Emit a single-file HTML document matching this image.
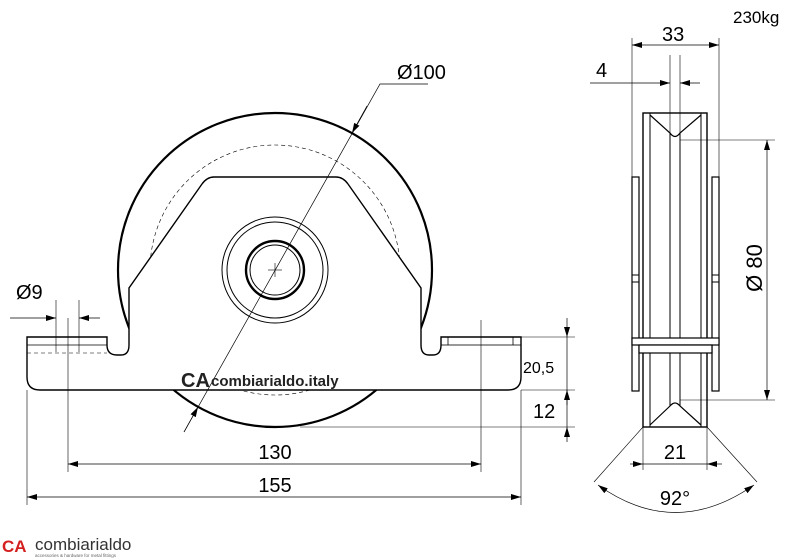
<!DOCTYPE html>
<html><head><meta charset="utf-8"><style>
html,body{margin:0;padding:0;background:#fff;}
svg{display:block;font-family:"Liberation Sans",sans-serif;}
</style></head><body>
<svg width="800" height="560" viewBox="0 0 800 560" xmlns="http://www.w3.org/2000/svg">
<defs>
<marker id="a" viewBox="0 0 10 6" refX="10" refY="3" markerWidth="10" markerHeight="6" orient="auto-start-reverse" markerUnits="userSpaceOnUse"><path d="M0,0L10,3L0,6Z" fill="#000"/></marker>
</defs>
<g fill="none" stroke="#000">
<circle cx="275" cy="270" r="157" stroke-width="2.2"/>
<circle cx="275" cy="270" r="125" stroke-width="0.6" stroke-dasharray="4,3"/>
<path d="M27,337 H107 V345 Q107,355 117,355 H121 Q129,355 129,345 V288 L202,184 Q207,177 214,177 H336 Q343,177 348,184 L421,288 V345 Q421,355 429,355 H433 Q441,355 441,345 V337 H521 V377 Q521,390 508,390 H40 Q27,390 27,377 Z" fill="#fff" stroke-width="1.4"/>
<line x1="27" y1="345" x2="107" y2="345" stroke-width="0.8"/>
<line x1="27" y1="353" x2="107" y2="353" stroke-width="0.6" stroke-dasharray="4,3"/>
<rect x="441" y="337" width="80" height="8" stroke-width="0.8"/>
<line x1="448" y1="337" x2="448" y2="345" stroke-width="0.8"/>
<line x1="513" y1="337" x2="513" y2="345" stroke-width="0.8"/>
<circle cx="275" cy="270" r="53" stroke-width="1"/>
<circle cx="275" cy="270" r="48" stroke-width="1"/>
<circle cx="275" cy="270" r="29" stroke-width="2.4"/>
<circle cx="275" cy="270" r="25" stroke-width="1"/>
<line x1="268" y1="270" x2="282" y2="270" stroke-width="0.6"/>
<line x1="275" y1="263" x2="275" y2="277" stroke-width="0.6"/>
<polyline points="428,84 380,84 184,432" stroke-width="0.7"/>
<line x1="367" y1="106" x2="352" y2="133" stroke-width="0.7" marker-end="url(#a)"/>
<line x1="184" y1="432" x2="198" y2="407" stroke-width="0.7" marker-end="url(#a)"/>
<line x1="56" y1="300" x2="56" y2="352" stroke-width="0.6"/>
<line x1="79" y1="300" x2="79" y2="352" stroke-width="0.6"/>
<line x1="68" y1="318" x2="68" y2="472" stroke-width="0.6"/>
<line x1="10" y1="318" x2="56" y2="318" stroke-width="0.7" marker-end="url(#a)"/>
<line x1="100" y1="318" x2="79" y2="318" stroke-width="0.7" marker-end="url(#a)"/>
<line x1="481" y1="320" x2="481" y2="472" stroke-width="0.6"/>
<line x1="68" y1="464" x2="481" y2="464" stroke-width="0.7" marker-start="url(#a)" marker-end="url(#a)"/>
<line x1="27" y1="390" x2="27" y2="505" stroke-width="0.6"/>
<line x1="521" y1="390" x2="521" y2="505" stroke-width="0.6"/>
<line x1="27" y1="497" x2="521" y2="497" stroke-width="0.7" marker-start="url(#a)" marker-end="url(#a)"/>
<line x1="521" y1="337" x2="575" y2="337" stroke-width="0.6"/>
<line x1="521" y1="390" x2="575" y2="390" stroke-width="0.6"/>
<line x1="300" y1="427" x2="575" y2="427" stroke-width="0.6"/>
<line x1="567" y1="318" x2="567" y2="337" stroke-width="0.7" marker-end="url(#a)"/>
<line x1="567" y1="337" x2="567" y2="390" stroke-width="0.7"/>
<line x1="567" y1="405" x2="567" y2="390" stroke-width="0.7" marker-end="url(#a)"/>
<line x1="567" y1="390" x2="567" y2="427" stroke-width="0.7"/>
<line x1="567" y1="442" x2="567" y2="427" stroke-width="0.7" marker-end="url(#a)"/>

<rect x="632" y="177" width="7" height="214" stroke-width="1.2" fill="#fff"/>
<rect x="712" y="177" width="7" height="214" stroke-width="1.2" fill="#fff"/>
<line x1="632" y1="275" x2="639" y2="275" stroke-width="1"/>
<line x1="632" y1="282" x2="639" y2="282" stroke-width="1"/>
<line x1="712" y1="275" x2="719" y2="275" stroke-width="1"/>
<line x1="712" y1="282" x2="719" y2="282" stroke-width="1"/>
<rect x="643" y="113" width="64" height="314" stroke-width="1.4" fill="#fff"/>
<line x1="650" y1="113" x2="650" y2="427" stroke-width="1"/>
<line x1="701" y1="113" x2="701" y2="427" stroke-width="1"/>
<line x1="670" y1="133" x2="670" y2="406" stroke-width="1"/>
<line x1="680" y1="133" x2="680" y2="406" stroke-width="1"/>
<path d="M650,115 L670,133 Q675,140 680,133 L701,115" stroke-width="1.2" fill="#fff"/>
<path d="M650,425 L670,406 Q675,400 680,406 L701,425" stroke-width="1.2" fill="#fff"/>
<rect x="632" y="338" width="87" height="7" stroke-width="1.2" fill="#fff"/>
<rect x="639" y="345" width="73" height="8" stroke-width="1.2" fill="#fff"/>
<line x1="632" y1="38" x2="632" y2="177" stroke-width="0.6"/>
<line x1="719" y1="38" x2="719" y2="177" stroke-width="0.6"/>
<line x1="632" y1="45" x2="719" y2="45" stroke-width="0.7" marker-start="url(#a)" marker-end="url(#a)"/>
<line x1="670" y1="55" x2="670" y2="133" stroke-width="0.6"/>
<line x1="680" y1="55" x2="680" y2="133" stroke-width="0.6"/>
<line x1="590" y1="83" x2="670" y2="83" stroke-width="0.7" marker-end="url(#a)"/>
<line x1="700" y1="83" x2="680" y2="83" stroke-width="0.7" marker-end="url(#a)"/>
<line x1="680" y1="140" x2="775" y2="140" stroke-width="0.6"/>
<line x1="680" y1="400" x2="775" y2="400" stroke-width="0.6"/>
<line x1="767" y1="140" x2="767" y2="400" stroke-width="0.7" marker-start="url(#a)" marker-end="url(#a)"/>
<line x1="643" y1="427" x2="643" y2="470" stroke-width="0.6"/>
<line x1="707" y1="427" x2="707" y2="470" stroke-width="0.6"/>
<line x1="630" y1="464" x2="643" y2="464" stroke-width="0.7" marker-end="url(#a)"/>
<line x1="722" y1="464" x2="707" y2="464" stroke-width="0.7" marker-end="url(#a)"/>
<line x1="643" y1="464" x2="707" y2="464" stroke-width="0.7"/>
<line x1="643" y1="427" x2="594" y2="482" stroke-width="0.6"/>
<line x1="707" y1="427" x2="757" y2="482" stroke-width="0.6"/>
<path d="M598,485 Q675,540 754,485" stroke-width="0.7" marker-start="url(#a)" marker-end="url(#a)"/>
</g>
<g font-size="20" fill="#000">
<text x="397" y="79">Ø100</text>
<text x="16" y="299">Ø9</text>
<text x="275" y="459" text-anchor="middle">130</text>
<text x="275" y="492" text-anchor="middle">155</text>
<text x="662" y="41">33</text>
<text x="596" y="77">4</text>
<text x="675" y="459" text-anchor="middle">21</text>
<text x="675" y="505" text-anchor="middle">92°</text>
<text x="533" y="418">12</text>
<text transform="translate(762,268) rotate(-90)" text-anchor="middle" font-size="22">Ø 80</text>
</g>
<text x="523" y="373" font-size="16">20,5</text>
<text x="733" y="23" font-size="17">230kg</text>
<text x="181" y="387" font-size="20" font-weight="bold" fill="#222">CA</text>
<text x="211" y="386" font-size="15" font-weight="bold" fill="#222">combiarialdo.italy</text>
<text x="2" y="552" font-size="17" font-weight="bold" fill="#d42020">CA</text>
<text x="35" y="550" font-size="17" fill="#333">combiarialdo</text>
<text x="35" y="557" font-size="4.5" fill="#666">accessories &amp; hardware for metal fittings</text>
</svg>
</body></html>
